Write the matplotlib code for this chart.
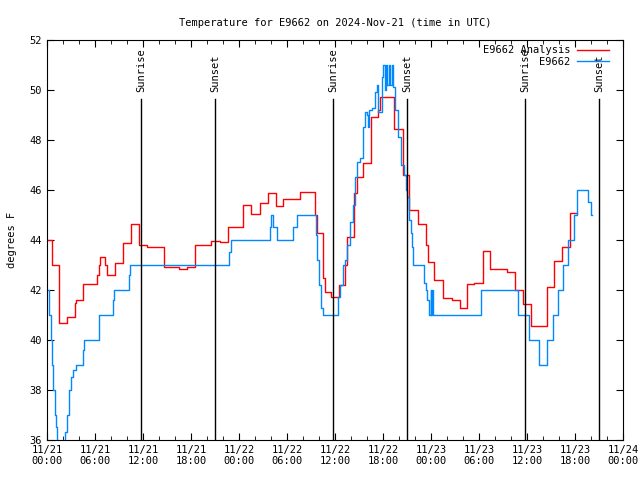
import numpy as np
import matplotlib
matplotlib.use('Agg')
import matplotlib.pyplot as plt
from matplotlib.ticker import MultipleLocator

plt.rcParams['font.family'] = ['DejaVu Sans Mono']

# hours since 11/21 00:00 UTC, temperature in F (step data)
red_h = [0.0, 0.6, 1.45, 2.5, 3.45, 3.6, 4.55, 6.2, 6.45, 6.6, 7.2, 7.45, 8.45, 9.5,
         10.5, 11.5, 12.5, 14.65, 16.5, 17.55, 18.55, 20.5, 21.6, 22.6, 24.5, 25.55,
         26.6, 27.65, 28.6, 29.55, 31.6, 33.5, 33.7, 34.55, 34.75, 35.55, 36.55, 37.25,
         37.45, 38.4, 38.7, 39.45, 40.5, 41.4, 41.6, 43.4, 44.45, 45.3, 46.4, 47.4,
         47.65, 48.4, 49.45, 50.6, 51.6, 52.45, 53.4, 54.45, 55.4, 57.45, 58.5, 59.45,
         60.45, 62.45, 63.4, 64.4, 65.4, 66.3]
red_t = [44.0, 43.0, 40.67, 40.93, 41.47, 41.6, 42.23, 42.6, 43.0, 43.33, 43.0, 42.6,
         43.07, 43.87, 44.63, 43.8, 43.73, 42.9, 42.84, 42.9, 43.8, 43.96, 43.9, 44.53,
         45.4, 45.04, 45.47, 45.87, 45.36, 45.63, 45.9, 45.0, 44.27, 42.47, 41.93, 41.73,
         42.2, 43.0, 44.13, 45.87, 46.53, 47.07, 48.93, 49.2, 49.73, 48.44, 46.6, 45.2,
         44.63, 43.8, 43.1, 42.4, 41.67, 41.6, 41.27, 42.23, 42.3, 43.56, 42.84, 42.7,
         42.0, 41.43, 40.56, 42.1, 43.16, 43.7, 45.07, 45.07]

blue_h = [0.0, 0.3, 0.5, 0.65, 0.8, 0.95, 1.1, 1.2, 1.35, 2.3, 2.55, 2.8, 3.05, 3.3, 3.6,
          4.55, 4.65, 6.45, 6.55, 8.25, 8.4, 10.25, 10.4, 22.7, 23.0, 27.85, 28.05, 28.3,
          28.7, 30.8, 31.2, 33.6, 33.8, 34.05, 34.25, 34.45, 36.4, 36.6, 37.05, 37.3,
          37.45, 37.85, 38.3, 38.5, 38.7, 39.1, 39.55, 39.75, 39.95, 40.15, 40.3, 40.6,
          41.0, 41.2, 41.4, 41.85, 42.05, 42.25, 42.4, 42.55, 42.7, 42.9, 43.1, 43.3,
          43.5, 43.9, 44.3, 44.6, 44.9, 45.05, 45.3, 45.5, 45.65, 45.8, 47.15, 47.4,
          47.55, 47.8, 47.95, 48.05, 48.15, 48.3, 54.2, 58.9, 60.25, 61.45, 62.45, 63.2,
          63.9, 64.55, 65.15, 65.85, 66.2, 67.65, 67.95, 68.1]
blue_t = [42.0, 41.0, 40.0, 39.0, 38.0, 37.0, 36.5, 36.0, 35.5, 36.3, 37.0, 38.0, 38.5,
          38.8, 39.0, 39.6, 40.0, 40.6, 41.0, 41.6, 42.0, 42.6, 43.0, 43.5, 44.0, 44.5,
          45.0, 44.5, 44.0, 44.5, 45.0, 44.2, 43.2, 42.2, 41.3, 41.0, 41.7, 42.2, 43.0,
          43.2, 43.8, 44.7, 45.4, 46.5, 47.1, 47.3, 48.5, 49.1, 49.0, 48.5, 49.2, 49.3,
          49.9, 50.2, 49.1, 50.5, 51.0, 50.0, 51.0, 50.2, 51.0, 50.2, 51.0, 50.1, 49.2,
          48.1, 47.0, 46.6, 46.0, 45.7, 44.8, 44.27, 43.73, 43.0, 42.3, 42.0, 41.6, 41.0,
          42.0, 41.0, 42.0, 41.0, 42.0, 41.0, 40.0, 39.0, 40.0, 41.0, 42.0, 43.0, 44.0,
          45.0, 46.0, 45.5, 45.0, 45.0]

sunrise = [11.8, 35.8, 59.8]
sunset = [21.05, 45.05, 69.05]

xticks = np.arange(0, 73, 6)
xlabels = ['11/21\n00:00', '11/21\n06:00', '11/21\n12:00', '11/21\n18:00',
           '11/22\n00:00', '11/22\n06:00', '11/22\n12:00', '11/22\n18:00',
           '11/23\n00:00', '11/23\n06:00', '11/23\n12:00', '11/23\n18:00',
           '11/24\n00:00']

fig = plt.figure(figsize=(6.4, 4.8), dpi=100)
ax = fig.add_axes([47/640, 40/480, 576/640, 400/480])

ax.plot(red_h, red_t, drawstyle='steps-post', color='#ff0000', lw=1.0, label='E9662 Analysis')
ax.plot(blue_h, blue_t, drawstyle='steps-post', color='#0088ff', lw=1.0, label='E9662')

# sunrise / sunset markers
for h in sunrise:
    ax.plot([h, h], [36, 36 + 16*0.8525], color='black', lw=1.0)
    ax.text(h, 36 + 16*0.87, 'Sunrise', rotation=90, ha='center', va='bottom', fontsize=7.5)
for h in sunset:
    ax.plot([h, h], [36, 36 + 16*0.8525], color='black', lw=1.0)
    ax.text(h, 36 + 16*0.87, 'Sunset', rotation=90, ha='center', va='bottom', fontsize=7.5)

ax.set_xlim(0, 72)
ax.set_ylim(36, 52)
ax.set_xticks(xticks)
ax.set_xticklabels(xlabels, fontsize=7.5)
ax.xaxis.set_minor_locator(MultipleLocator(2))
ax.set_yticks(np.arange(36, 53, 2))
ax.tick_params(axis='y', labelsize=7.5)
ax.tick_params(which='both', direction='in', top=True, right=True)
ax.tick_params(which='major', length=5)
ax.tick_params(which='minor', length=3)
ax.set_ylabel('degrees F', fontsize=7.5, labelpad=9)
ax.set_title('Temperature for E9662 on 2024-Nov-21 (time in UTC)', fontsize=7.5, pad=10)

ax.legend(loc='upper right', bbox_to_anchor=(0.984, 1.0), frameon=False, markerfirst=False,
          fontsize=7.5, handlelength=3.0, handletextpad=0.7, borderaxespad=0.1,
          labelspacing=0.15)

fig.savefig('out.png', dpi=100)
